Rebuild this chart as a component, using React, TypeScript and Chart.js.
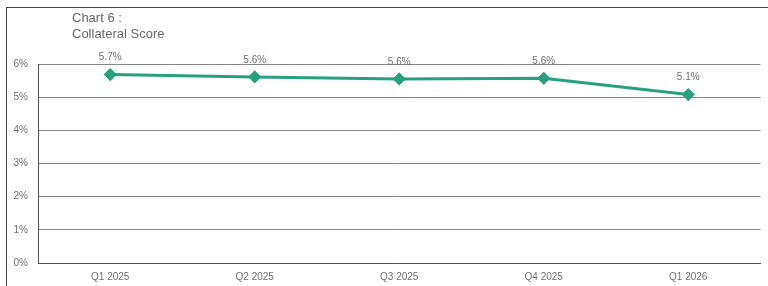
import React, { useEffect, useRef } from "react";
import { Chart, registerables } from "chart.js";

Chart.register(...registerables);

const categories = ["Q1 2025", "Q2 2025", "Q3 2025", "Q4 2025", "Q1 2026"];
const collateralScore = [5.68, 5.61, 5.55, 5.57, 5.08];
const valueLabels = ["5.7%", "5.6%", "5.6%", "5.6%", "5.1%"];
const yTicks = [0, 1, 2, 3, 4, 5, 6];
const titleLines = ["Chart 6 :", "Collateral Score"];

const FONT = "'Liberation Sans', Arial, sans-serif";
const LINE_COLOR = "#27a07d";
const TEXT_COLOR = "#6e6e6e";

export default function App() {
  const canvasRef = useRef<HTMLCanvasElement | null>(null);

  useEffect(() => {
    document.body.style.margin = "0";
    const canvas = canvasRef.current;
    if (!canvas) return;

    const labelPlugin = {
      id: "valueLabels",
      afterDatasetsDraw(chart: any) {
        const ctx = chart.ctx;
        const meta = chart.getDatasetMeta(0);
        ctx.save();
        ctx.font = `10px ${FONT}`;
        ctx.fillStyle = TEXT_COLOR;
        ctx.textAlign = "center";
        ctx.textBaseline = "middle";
        meta.data.forEach((pt: any, i: number) => {
          ctx.fillText(valueLabels[i], pt.x, pt.y - 17);
        });
        ctx.restore();
      },
    };

    const chart = new Chart(canvas, {
      type: "line",
      data: {
        labels: categories,
        datasets: [
          {
            data: collateralScore,
            borderColor: LINE_COLOR,
            backgroundColor: LINE_COLOR,
            borderWidth: 3,
            pointStyle: "rectRot",
            pointRadius: 4.5,
            pointBackgroundColor: LINE_COLOR,
            pointBorderColor: LINE_COLOR,
            tension: 0,
          },
        ],
      },
      options: {
        animation: false,
        responsive: false,
        maintainAspectRatio: false,
        layout: { padding: { left: 0, top: 64, right: 7, bottom: 0 } },
        plugins: {
          legend: { display: false },
          title: { display: false },
          tooltip: { enabled: false },
        },
        scales: {
          x: {
            offset: true,
            grid: { display: false, drawTicks: false },
            border: { display: true, color: "#4a5056", width: 1 },
            ticks: {
              color: TEXT_COLOR,
              font: { family: FONT, size: 10 },
              padding: 8,
              maxRotation: 0,
            },
            afterFit: (scale: any) => {
              scale.height = 23;
            },
          },
          y: {
            min: 0,
            max: 6,
            afterBuildTicks: (scale: any) => {
              scale.ticks = yTicks.map((v) => ({ value: v }));
            },
            grid: { color: "#858585", lineWidth: 1, drawTicks: false },
            border: { display: true, color: "#4a5056", width: 1 },
            ticks: {
              color: TEXT_COLOR,
              font: { family: FONT, size: 10 },
              padding: 10,
              callback: (v: any) => `${v}%`,
            },
            afterFit: (scale: any) => {
              scale.width = 38;
            },
          },
        },
      },
      plugins: [labelPlugin],
    });

    return () => chart.destroy();
  }, []);

  return (
    <div style={{ position: "relative", width: 768, height: 286, background: "#fff", overflow: "hidden" }}>
      <canvas ref={canvasRef} width={768} height={286} style={{ position: "absolute", left: 0, top: 0 }} />
      <div
        style={{
          position: "absolute",
          left: 6,
          top: 7,
          width: 762,
          height: 279,
          borderTop: "1px solid #444",
          borderLeft: "1px solid #444",
          boxSizing: "border-box",
          pointerEvents: "none",
        }}
      />
      <div
        style={{
          position: "absolute",
          left: 72,
          top: 10,
          fontFamily: FONT,
          fontSize: 13,
          lineHeight: "16px",
          color: "#666",
        }}
      >
        {titleLines.map((t) => (
          <div key={t}>{t}</div>
        ))}
      </div>
    </div>
  );
}
